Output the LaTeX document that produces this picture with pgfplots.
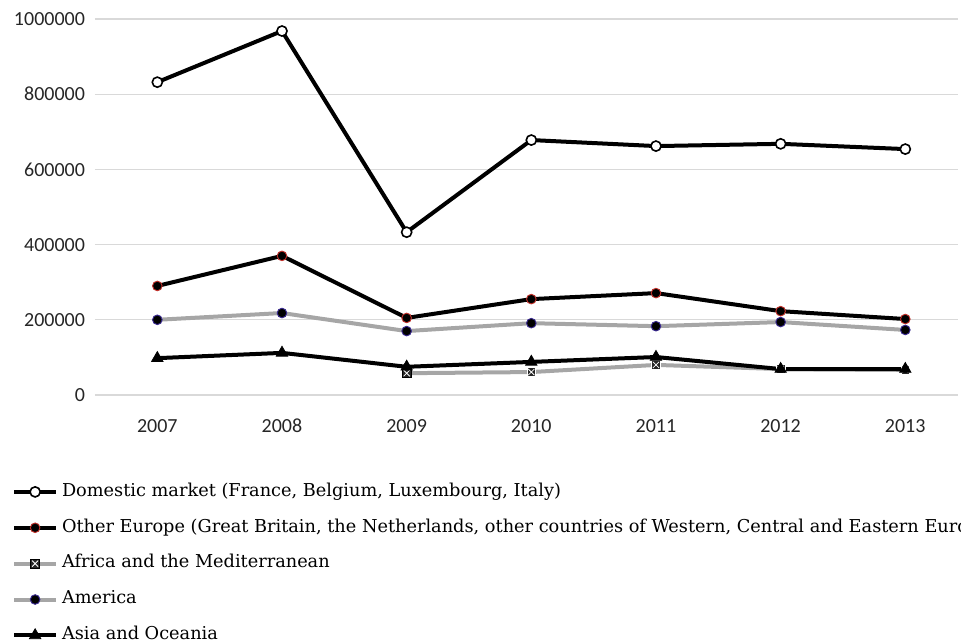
\documentclass[border=0pt]{standalone}
\usepackage{fontspec}
\setmainfont{DejaVu Serif}
\newfontfamily\carlito{Carlito}
\usepackage{pgfplots}
\pgfplotsset{compat=1.18}
\definecolor{gridc}{HTML}{D9D9D9}
\definecolor{greyl}{HTML}{A6A6A6}
\definecolor{redrim}{HTML}{C0302A}
\definecolor{bluerim}{HTML}{3A2A90}
\pgfdeclareplotmark{boxx}{%
  \pgfpathrectangle{\pgfqpoint{-\pgfplotmarksize}{-\pgfplotmarksize}}{\pgfqpoint{2\pgfplotmarksize}{2\pgfplotmarksize}}%
  \pgfusepathqfillstroke
  \pgfsetstrokecolor{white}%
  \pgfsetlinewidth{0.6pt}%
  \pgfpathmoveto{\pgfqpoint{-0.7\pgfplotmarksize}{-0.7\pgfplotmarksize}}%
  \pgfpathlineto{\pgfqpoint{0.7\pgfplotmarksize}{0.7\pgfplotmarksize}}%
  \pgfpathmoveto{\pgfqpoint{-0.7\pgfplotmarksize}{0.7\pgfplotmarksize}}%
  \pgfpathlineto{\pgfqpoint{0.7\pgfplotmarksize}{-0.7\pgfplotmarksize}}%
  \pgfusepathqstroke
}
\begin{document}
\begin{tikzpicture}
\begin{axis}[
  scale only axis,
  width=647pt, height=282pt,
  xmin=2006.5, xmax=2013.42,
  ymin=0, ymax=1000000,
  xtick={2007,...,2013},
  ytick={0,200000,...,1000000},
  scaled y ticks=false,
  /pgf/number format/assume math mode=true,
  xticklabel={\pgfmathprintnumber[1000 sep={}]{\tick}},
  yticklabel={\pgfmathprintnumber[1000 sep={},fixed]{\tick}},
  ticklabel style={font=\carlito\fontsize{15}{15}\selectfont, text=black!85},
  yticklabel style={xshift=-4pt},
  xticklabel style={anchor=north, text height=10.5pt, text depth=0pt, yshift=-14pt},
  major tick length=0pt,
  axis line style={draw=none},
  ymajorgrids,
  grid style={gridc, line width=1pt},
  clip=false,
  legend style={at={(-0.0962,-0.226)}, anchor=north west, draw=none, fill=none,
    font=\fontsize{13.3}{15}\selectfont, row sep=9.4pt, legend cell align=left,
    inner sep=0pt, nodes={text height=10pt, text depth=3.5pt, inner xsep=3pt}},
  legend image code/.code={\draw[mark repeat=2,mark phase=2] plot coordinates {(0cm,0cm)(0.55cm,0cm)(1.1cm,0cm)};},
]
\addplot[black, line width=3pt, mark=*, mark size=3.8pt, mark options={fill=white, draw=black, line width=1.2pt}]
coordinates {(2007,832000)(2008,968000)(2009,433000)(2010,678000)(2011,662000)(2012,668000)(2013,654000)};
\addlegendentry{Domestic market (France, Belgium, Luxembourg, Italy)}
\addplot[black, line width=3pt, mark=*, mark size=3.6pt, mark options={fill=black, draw=redrim, line width=0.7pt}]
coordinates {(2007,290000)(2008,370000)(2009,205000)(2010,255000)(2011,271000)(2012,223000)(2013,202000)};
\addlegendentry{Other Europe (Great Britain, the Netherlands, other countries of Western, Central and Eastern Europe)}
\addplot[greyl, line width=3pt, mark=boxx, mark size=3.3pt, mark options={fill=black!85, draw=black, line width=0.6pt}]
coordinates {(2009,58000)(2010,61000)(2011,80000)(2012,69000)(2013,67000)};
\addlegendentry{Africa and the Mediterranean}
\addplot[greyl, line width=3pt, mark=*, mark size=3.6pt, mark options={fill=black, draw=bluerim, line width=0.7pt}]
coordinates {(2007,200000)(2008,218000)(2009,170000)(2010,191000)(2011,183000)(2012,194000)(2013,173000)};
\addlegendentry{America}
\addplot[black, line width=3pt, mark=triangle*, mark size=5pt, mark options={fill=black, draw=black, line width=0.5pt}]
coordinates {(2007,98000)(2008,112000)(2009,75000)(2010,88000)(2011,101000)(2012,69000)(2013,69000)};
\addlegendentry{Asia and Oceania}
\end{axis}
\pgfresetboundingbox
\useasboundingbox (-71.25pt,-184.5pt) rectangle (649.5pt,296.25pt);
\end{tikzpicture}
\end{document}
